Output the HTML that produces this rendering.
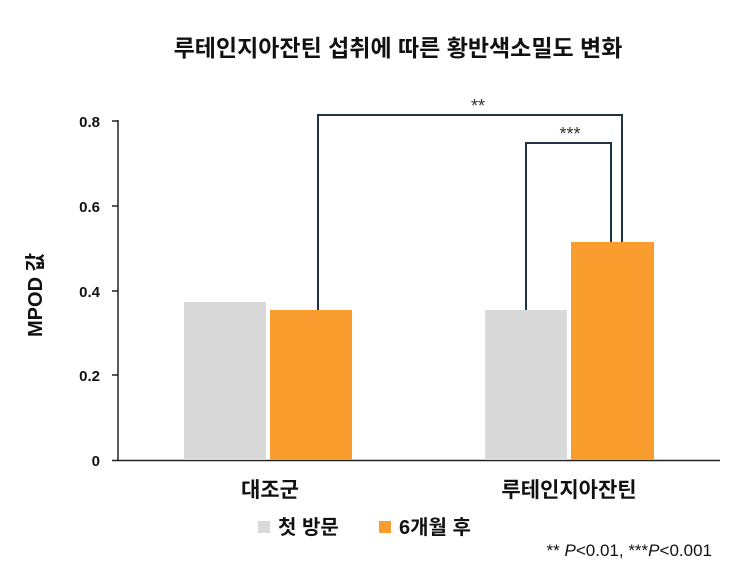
<html><body style="margin:0;background:#fff">
<svg width="754" height="584" xmlns="http://www.w3.org/2000/svg" style="font-family:'Liberation Sans','Noto Sans CJK KR',sans-serif">
<text x="398" y="56" text-anchor="middle" font-size="23" font-weight="bold" fill="#111">루테인지아잔틴 섭취에 따른 황반색소밀도 변화</text>
<g font-size="15" font-weight="bold" text-anchor="end" fill="#111">
<text x="100" y="466">0</text><text x="100" y="381">0.2</text><text x="100" y="297">0.4</text><text x="100" y="212">0.6</text><text x="100" y="127">0.8</text>
</g>
<g stroke="#222" stroke-width="1.5">
<line x1="112" y1="121" x2="118" y2="121"/><line x1="112" y1="206" x2="118" y2="206"/><line x1="112" y1="291" x2="118" y2="291"/><line x1="112" y1="375" x2="118" y2="375"/>
<line x1="118" y1="120" x2="118" y2="461"/><line x1="112" y1="460.5" x2="720" y2="460.5"/>
</g>
<text transform="translate(42,295) rotate(-90)" text-anchor="middle" font-size="20" font-weight="bold" fill="#111">MPOD 값</text>
<rect x="184" y="302" width="82" height="158" fill="#d9d9d9"/>
<rect x="270" y="310" width="82" height="150" fill="#f99d2f"/>
<rect x="485" y="310" width="82" height="150" fill="#d9d9d9"/>
<rect x="571" y="242" width="83" height="218" fill="#f99d2f"/>
<g fill="none" stroke="#1f3343" stroke-width="2">
<polyline points="318,310 318,115 622,115 622,242"/>
<polyline points="526,310 526,143 611,143 611,242"/>
</g>
<text x="478" y="112" text-anchor="middle" font-size="18" fill="#333">**</text>
<text x="570" y="140" text-anchor="middle" font-size="18" fill="#333">***</text>
<g font-size="21" font-weight="bold" fill="#111" text-anchor="middle">
<text x="270" y="497">대조군</text><text x="569" y="497">루테인지아잔틴</text>
</g>
<rect x="258" y="521" width="12" height="12" fill="#d9d9d9"/>
<text x="278" y="534" font-size="20" font-weight="bold" fill="#111">첫 방문</text>
<rect x="379" y="521" width="12" height="12" fill="#f99d2f"/>
<text x="399" y="534" font-size="20" font-weight="bold" fill="#111">6개월 후</text>
<text x="712" y="556" text-anchor="end" font-size="17" fill="#111">** <tspan font-style="italic">P</tspan>&lt;0.01, ***<tspan font-style="italic">P</tspan>&lt;0.001</text>
</svg>
</body></html>
